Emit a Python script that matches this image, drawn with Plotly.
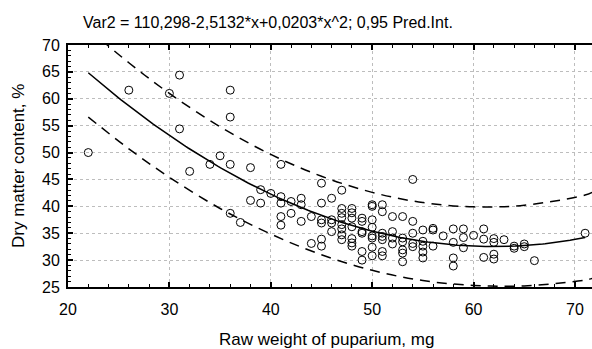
import numpy as np
import plotly.graph_objects as go

# Raw weight of puparium (mg) and dry matter content (%) per individual
weight = [22, 26, 30, 31, 31, 32, 34, 35, 36, 36, 36, 36, 37, 38, 38, 39, 39, 40,
          41, 41, 41, 41, 41, 42, 42, 43, 43, 43, 44, 44,
          45, 45, 45, 45, 45, 45, 46, 46, 46, 46,
          47, 47, 47, 47, 47, 47, 47, 47,
          48, 48, 48, 48, 48, 48, 48,
          49, 49, 49, 49, 49, 49,
          50, 50, 50, 50, 50, 50, 50, 50,
          51, 51, 51, 51, 51, 51, 51,
          52, 52, 52, 52,
          53, 53, 53, 53, 53, 53,
          54, 54, 54, 54, 54,
          55, 55, 55, 55, 55,
          56, 56, 56, 57,
          58, 58, 58, 58, 59, 59, 59, 60,
          61, 61, 61, 62, 62, 62, 62, 63, 64, 64, 65, 65, 66, 71]
dry_matter = [50.0, 61.6, 61.0, 64.4, 54.4, 46.5, 47.8, 49.4, 61.6, 56.6, 47.8, 38.7, 37.0, 47.2, 41.1, 43.1, 40.6, 42.4,
              47.8, 41.8, 40.6, 38.1, 36.5, 40.9, 38.7, 41.5, 40.3, 37.2, 38.1, 33.1,
              44.3, 40.6, 37.5, 36.9, 33.9, 32.6, 41.5, 37.5, 36.9, 35.3,
              43.0, 39.6, 38.7, 37.9, 36.6, 35.8, 34.7, 33.8,
              39.6, 38.8, 37.8, 36.2, 34.0, 33.2, 32.6,
              37.8, 37.2, 35.3, 35.0, 31.6, 30.0,
              40.3, 40.0, 37.5, 36.1, 34.5, 34.1, 32.4, 30.8,
              40.3, 39.0, 35.0, 34.4, 33.8, 31.6, 30.8,
              38.1, 35.3, 34.1, 33.0,
              38.1, 34.1, 33.4, 31.9, 31.3, 29.7,
              45.0, 37.2, 35.0, 33.1, 32.5,
              35.6, 33.5, 32.6, 31.5, 30.4,
              35.9, 35.6, 32.6, 34.5,
              35.8, 33.3, 30.4, 28.9, 35.8, 34.2, 32.3, 34.6,
              35.8, 33.9, 30.5, 34.0, 33.3, 31.1, 30.2, 33.8, 32.6, 32.2, 33.0, 32.5, 29.9, 35.0]

# Quadratic regression coefficients: Var2 = b0 + b1*x + b2*x^2
coef = [110.298, -2.5132, 0.0203]

# 0.95 prediction interval limits
band_x = [22, 26, 30, 35, 40, 45, 50, 55, 60, 65, 71, 71.7]
band_upper = [73.0, 66.7, 61.0, 54.8, 49.65, 45.6, 42.6, 40.7, 39.9, 40.2, 42.1, 42.6]
band_lower = [56.6, 50.7, 45.4, 39.6, 34.85, 31.0, 28.1, 26.2, 25.3, 25.2, 26.3, 26.6]

fit_x = np.linspace(22, 71, 200)
fit_y = coef[0] + coef[1] * fit_x + coef[2] * fit_x ** 2

FONT = "Liberation Sans, Arial, sans-serif"

fig = go.Figure()
for yy in (band_upper, band_lower):
    fig.add_trace(go.Scatter(x=band_x, y=yy, mode="lines", line_shape="spline",
                             line=dict(color="black", width=1.5, dash="10px,7px"),
                             hoverinfo="skip", showlegend=False))
fig.add_trace(go.Scatter(x=fit_x, y=fit_y, mode="lines",
                         line=dict(color="black", width=1.5), showlegend=False))
fig.add_trace(go.Scatter(x=weight, y=dry_matter, mode="markers",
                         marker=dict(symbol="circle-open", size=8, color="black",
                                     line=dict(width=1, color="black")),
                         showlegend=False))

fig.update_layout(
    width=592, height=349,
    margin=dict(l=68, r=0, t=45, b=62),
    paper_bgcolor="white", plot_bgcolor="white",
    font=dict(family=FONT, color="black"),
    showlegend=False,
    xaxis=dict(range=[20, 71.68], tick0=20, dtick=10, ticks="inside", ticklen=5,
               tickwidth=1.5, tickcolor="black", showline=True, linecolor="black",
               linewidth=2, mirror="ticks", showgrid=True, gridcolor="#bdbdbd",
               griddash="dot", gridwidth=1, zeroline=False,
               tickfont=dict(size=16), ticklabelstandoff=7,
               minor=dict(dtick=2, ticks="inside", ticklen=3, tickcolor="black",
                          tickwidth=1.2, showgrid=False)),
    yaxis=dict(range=[25, 70], tick0=25, dtick=5, ticks="inside", ticklen=5,
               tickwidth=1.5, tickcolor="black", showline=True, linecolor="black",
               linewidth=2, showgrid=True, gridcolor="#bdbdbd", griddash="dot",
               gridwidth=1, zeroline=False, tickfont=dict(size=16), ticklabelstandoff=3,
               minor=dict(dtick=1, ticks="inside", ticklen=3, tickcolor="black",
                          tickwidth=1, showgrid=False)),
    annotations=[
        dict(text="Var2 = 110,298-2,5132*x+0,0203*x^2; 0,95 Pred.Int.",
             xref="paper", yref="paper", x=0.381, y=1, yshift=23,
             xanchor="center", yanchor="middle", showarrow=False,
             font=dict(size=16)),
        dict(text="Raw weight of puparium, mg", xref="paper", yref="paper",
             x=0.494, y=0, yshift=-52, xanchor="center", yanchor="middle",
             showarrow=False, font=dict(size=17)),
        dict(text="Dry matter content, %", xref="paper", yref="paper",
             x=0, xshift=-50, y=0.5, textangle=-90, xanchor="center",
             yanchor="middle", showarrow=False, font=dict(size=17)),
    ],
)

fig.write_html("out.html")
